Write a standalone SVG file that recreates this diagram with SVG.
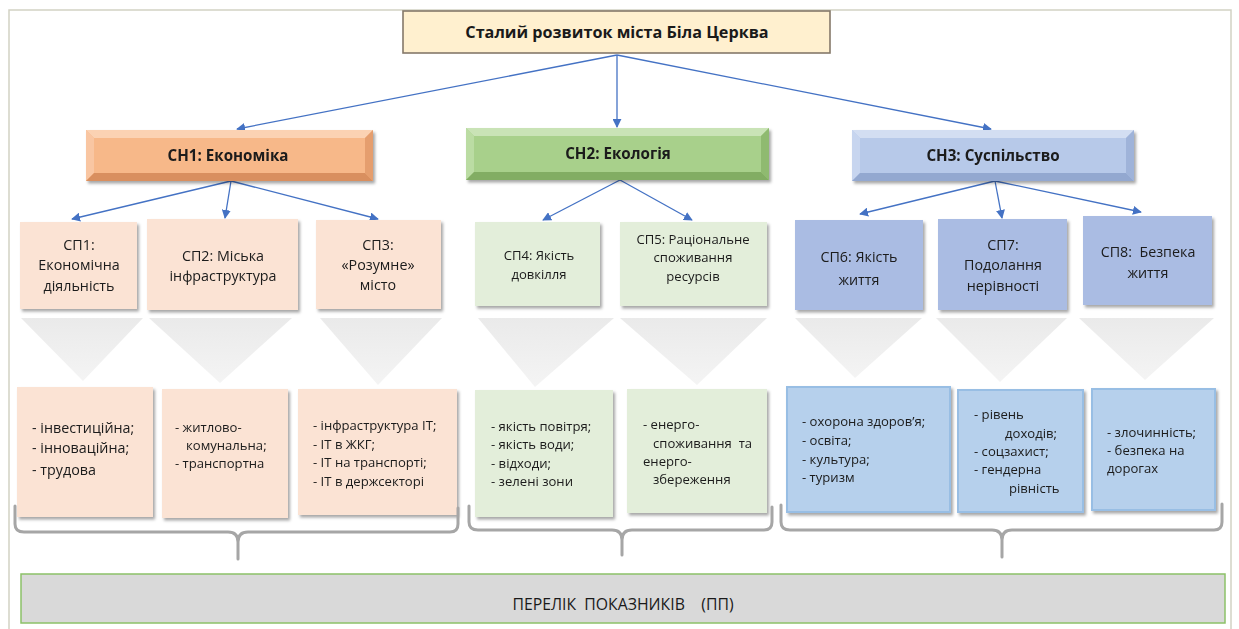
<svg xmlns="http://www.w3.org/2000/svg" width="1239" height="629" viewBox="0 0 1239 629">
  <style>
    text { font-family: "Open Sans", "Noto Sans", "Liberation Sans", sans-serif; fill: #1a1a1a; white-space: pre; }
    .title { font-size: 16.2px; font-weight: bold; }
    .head { font-size: 15.2px; font-weight: bold; }
    .sp { font-size: 14.3px; text-anchor: middle; }
    .sps { font-size: 13.1px; text-anchor: middle; }
    .li { font-size: 14.3px; }
    .lis { font-size: 13.1px; }
    .conn { stroke: #4472C4; stroke-width: 1.3; fill: none; marker-end: url(#arr); }
    .brace { stroke: #A6A6A6; stroke-width: 3; fill: none; stroke-linecap: round; }
    .tri { fill: url(#triG); }
    .peach { fill: #FBE3D4; }
    .mint { fill: #E3EEDA; }
    .blue { fill: #AABCE3; }
    .lblue { fill: #B6D0EC; stroke: #98BEE4; stroke-width: 2; }
  </style>
  <defs>
    <marker id="arr" viewBox="0 0 10 10" refX="9" refY="5" markerWidth="9" markerHeight="9" markerUnits="userSpaceOnUse" orient="auto">
      <path d="M0,0 L10,5 L0,10 Z" fill="#4472C4"/>
    </marker>
    <filter id="sh" x="-10%" y="-10%" width="130%" height="130%">
      <feDropShadow dx="2" dy="2.5" stdDeviation="1.6" flood-color="#000" flood-opacity="0.35"/>
    </filter>
    <linearGradient id="triG" x1="0" y1="0" x2="0" y2="1">
      <stop offset="0" stop-color="#EAEAEA"/>
      <stop offset="1" stop-color="#F4F4F4"/>
    </linearGradient>
  </defs>

  <!-- outer frame -->
  <rect x="9" y="10" width="1222" height="625" fill="#FFFFFF" stroke="#D2D2C4" stroke-width="1.5"/>

  <!-- connectors -->
  <g id="connectors">
    <line class="conn" x1="617" y1="55" x2="237" y2="129"/>
    <line class="conn" x1="617" y1="55" x2="617" y2="127"/>
    <line class="conn" x1="617" y1="55" x2="991" y2="129"/>
    <line class="conn" x1="231" y1="181" x2="72" y2="219"/>
    <line class="conn" x1="231" y1="181" x2="225" y2="218"/>
    <line class="conn" x1="231" y1="181" x2="378" y2="219"/>
    <line class="conn" x1="620" y1="180" x2="543" y2="220"/>
    <line class="conn" x1="620" y1="180" x2="692" y2="220"/>
    <line class="conn" x1="995" y1="181" x2="860" y2="214"/>
    <line class="conn" x1="995" y1="181" x2="1002" y2="218"/>
    <line class="conn" x1="995" y1="181" x2="1141" y2="212"/>
  </g>

  <!-- root -->
  <g id="root">
    <rect x="403" y="11" width="427" height="42" fill="#FFF0CF" stroke="#85796A" stroke-width="1.6"/>
    <text class="title" x="617" y="38" text-anchor="middle">Сталий розвиток міста Біла Церква</text>
  </g>

  <!-- strategic directions (bevelled) -->
  <g id="sn1" filter="url(#sh)">
    <rect x="86" y="130" width="287" height="51" fill="#F7B889"/>
    <polygon points="86,130 373,130 365,138 94,138" fill="#FBD2B3"/>
    <polygon points="86,130 94,138 94,173 86,181" fill="#F9C6A2"/>
    <polygon points="373,130 373,181 365,173 365,138" fill="#E59E6E"/>
    <polygon points="86,181 94,173 365,173 373,181" fill="#D98F5F"/>
    <text class="head" x="228" y="161" text-anchor="middle">СН1: Економіка</text>
  </g>
  <g id="sn2" filter="url(#sh)">
    <rect x="466" y="128" width="303" height="52" fill="#A8D08B"/>
    <polygon points="466,128 769,128 761,136 474,136" fill="#C9E3B6"/>
    <polygon points="466,128 474,136 474,172 466,180" fill="#BBDCA3"/>
    <polygon points="769,128 769,180 761,172 761,136" fill="#8FBA70"/>
    <polygon points="466,180 474,172 761,172 769,180" fill="#82AD64"/>
    <text class="head" x="618" y="159" text-anchor="middle">СН2: Екологія</text>
  </g>
  <g id="sn3" filter="url(#sh)">
    <rect x="852" y="130" width="282" height="51" fill="#B7C9E9"/>
    <polygon points="852,130 1134,130 1126,138 860,138" fill="#D3DEF2"/>
    <polygon points="852,130 860,138 860,173 852,181" fill="#C7D5EF"/>
    <polygon points="1134,130 1134,181 1126,173 1126,138" fill="#9FB3D9"/>
    <polygon points="852,181 860,173 1126,173 1134,181" fill="#93A8D0"/>
    <text class="head" x="993" y="161" text-anchor="middle">СН3: Суспільство</text>
  </g>

  <!-- grey funnels -->
  <g id="funnels">
    <polygon class="tri" points="21,318 143,318 83,381"/>
    <polygon class="tri" points="149,318 292,318 220,383"/>
    <polygon class="tri" points="320,318 442,318 378,385"/>
    <polygon class="tri" points="478,318 614,318 535,387"/>
    <polygon class="tri" points="620,318 767,318 697,385"/>
    <polygon class="tri" points="795,318 922,318 855,378"/>
    <polygon class="tri" points="936,318 1067,318 1000,382"/>
    <polygon class="tri" points="1079,318 1214,318 1145,380"/>
  </g>

  <!-- sub-priorities -->
  <g id="sp1" filter="url(#sh)">
    <rect class="peach" x="20" y="222" width="117" height="87"/>
    <text class="sp" x="79" y="250">СП1:</text>
    <text class="sp" x="79" y="270">Економічна</text>
    <text class="sp" x="79" y="291">діяльність</text>
  </g>
  <g id="sp2" filter="url(#sh)">
    <rect class="peach" x="147" y="219" width="151" height="91"/>
    <text class="sp" x="223" y="261">СП2: Міська</text>
    <text class="sp" x="223" y="281">інфраструктура</text>
  </g>
  <g id="sp3" filter="url(#sh)">
    <rect class="peach" x="316" y="220" width="125" height="89"/>
    <text class="sp" x="378" y="250">СП3:</text>
    <text class="sp" x="378" y="270">«Розумне»</text>
    <text class="sp" x="378" y="290">місто</text>
  </g>
  <g id="sp4" filter="url(#sh)">
    <rect class="mint" x="475" y="222" width="125" height="84"/>
    <text class="sps" x="539" y="260">СП4: Якість</text>
    <text class="sps" x="539" y="279">довкілля</text>
  </g>
  <g id="sp5" filter="url(#sh)">
    <rect class="mint" x="620" y="222" width="147" height="84"/>
    <text class="sps" x="693" y="244">СП5: Раціональне</text>
    <text class="sps" x="693" y="262">споживання</text>
    <text class="sps" x="693" y="281">ресурсів</text>
  </g>
  <g id="sp6" filter="url(#sh)">
    <rect class="blue" x="795" y="220" width="128" height="90"/>
    <text class="sp" x="859" y="262">СП6: Якість</text>
    <text class="sp" x="859" y="285">життя</text>
  </g>
  <g id="sp7" filter="url(#sh)">
    <rect class="blue" x="938" y="219" width="129" height="91"/>
    <text class="sp" x="1003" y="250">СП7:</text>
    <text class="sp" x="1003" y="270">Подолання</text>
    <text class="sp" x="1003" y="291">нерівності</text>
  </g>
  <g id="sp8" filter="url(#sh)">
    <rect class="blue" x="1083" y="216" width="129" height="89"/>
    <text class="sp" x="1148" y="257">СП8:  Безпека</text>
    <text class="sp" x="1148" y="278">життя</text>
  </g>

  <!-- indicator lists -->
  <g id="list1" filter="url(#sh)">
    <rect class="peach" x="17" y="387" width="136" height="130"/>
    <text class="li" x="32" y="433">- інвестиційна;</text>
    <text class="li" x="32" y="453">- інноваційна;</text>
    <text class="li" x="32" y="475">- трудова</text>
  </g>
  <g id="list2" filter="url(#sh)">
    <rect class="peach" x="162" y="389" width="126" height="129"/>
    <text class="lis" x="175" y="432">- житлово-</text>
    <text class="lis" x="186" y="450">комунальна;</text>
    <text class="lis" x="175" y="468">- транспортна</text>
  </g>
  <g id="list3" filter="url(#sh)">
    <rect class="peach" x="298" y="389" width="159" height="126"/>
    <text class="lis" x="313" y="430">- інфраструктура ІТ;</text>
    <text class="lis" x="313" y="449">- ІТ в ЖКГ;</text>
    <text class="lis" x="313" y="467">- ІТ на транспорті;</text>
    <text class="lis" x="313" y="486">- ІТ в держсекторі</text>
  </g>
  <g id="list4" filter="url(#sh)">
    <rect class="mint" x="475" y="390" width="138" height="127"/>
    <text class="lis" x="491" y="431">- якість повітря;</text>
    <text class="lis" x="491" y="449">- якість води;</text>
    <text class="lis" x="491" y="468">- відходи;</text>
    <text class="lis" x="491" y="486">- зелені зони</text>
  </g>
  <g id="list5" filter="url(#sh)">
    <rect class="mint" x="627" y="389" width="140" height="124"/>
    <text class="lis" x="643" y="429">- енерго-</text>
    <text class="lis" x="653" y="448">споживання  та</text>
    <text class="lis" x="643" y="466">енерго-</text>
    <text class="lis" x="653" y="484">збереження</text>
  </g>
  <g id="list6" filter="url(#sh)">
    <rect class="lblue" x="787" y="387" width="163" height="125"/>
    <text class="lis" x="802" y="426">- охорона здоров’я;</text>
    <text class="lis" x="802" y="445">- освіта;</text>
    <text class="lis" x="802" y="464">- культура;</text>
    <text class="lis" x="802" y="482">- туризм</text>
  </g>
  <g id="list7" filter="url(#sh)">
    <rect class="lblue" x="958" y="390" width="125" height="122"/>
    <text class="lis" x="974" y="419">- рівень</text>
    <text class="lis" x="1005" y="438">доходів;</text>
    <text class="lis" x="974" y="456">- соцзахист;</text>
    <text class="lis" x="974" y="474">- гендерна</text>
    <text class="lis" x="1009" y="493">рівність</text>
  </g>
  <g id="list8" filter="url(#sh)">
    <rect class="lblue" x="1092" y="389" width="123" height="121"/>
    <text class="lis" x="1107" y="437">- злочинність;</text>
    <text class="lis" x="1107" y="455">- безпека на</text>
    <text class="lis" x="1107" y="473">дорогах</text>
  </g>

  <!-- grouping braces -->
  <g id="braces">
    <path class="brace" d="M15,506 V524 Q15,532 24,532 H228 Q238,532 238,542 V559 M238,542 Q238,532 248,532 H450 Q458,532 458,524 V508"/>
    <path class="brace" d="M469,506 V522 Q469,530 478,530 H612 Q622,530 622,540 V555 M622,540 Q622,530 632,530 H764 Q772,530 772,522 V507"/>
    <path class="brace" d="M781,505 V522 Q781,530 790,530 H992 Q1002,530 1002,540 V557 M1002,540 Q1002,530 1012,530 H1214 Q1222,530 1222,522 V504"/>
  </g>

  <!-- indicator list bar -->
  <g id="indicators">
    <rect x="21" y="574" width="1204" height="49" fill="#D9D9D9" stroke="#8CC168" stroke-width="1.5"/>
    <text x="623" y="610" text-anchor="middle" font-size="15.8" fill="#262626">ПЕРЕЛІК  ПОКАЗНИКІВ    (ПП)</text>
  </g>
</svg>
